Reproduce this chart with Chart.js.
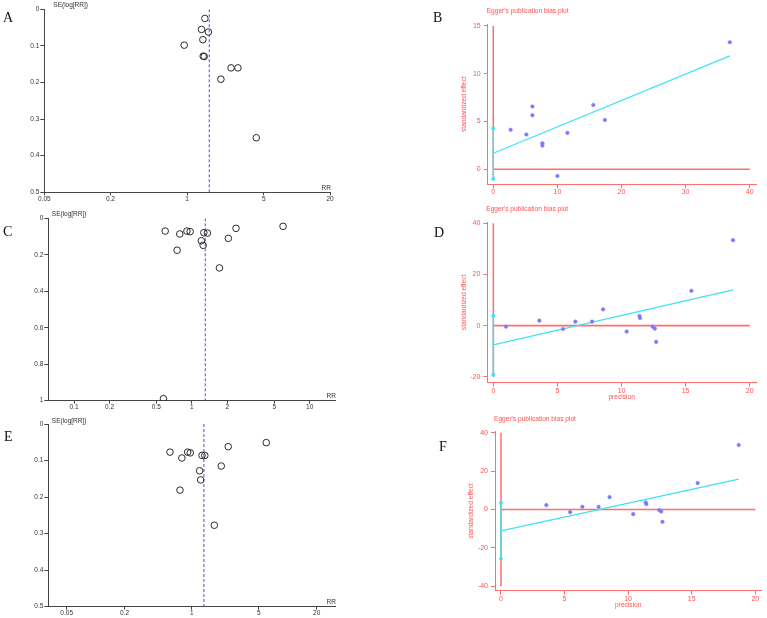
<!DOCTYPE html>
<html><head><meta charset="utf-8">
<script src="https://cdn.jsdelivr.net/npm/chart.js@4/dist/chart.umd.min.js"></script>
<style>
html,body{margin:0;padding:0;background:#fff;}
#wrap{position:relative;width:767px;height:618px;overflow:hidden;background:#fff;}
#wrap canvas{position:absolute;left:0;top:0;}
.lt{position:absolute;font-family:"Liberation Serif","Times New Roman",serif;font-size:14px;line-height:14px;color:#111;}
</style></head><body>
<div id="wrap">
<canvas id="cA" width="767" height="618"></canvas>
<canvas id="cB" width="767" height="618"></canvas>
<canvas id="cC" width="767" height="618"></canvas>
<canvas id="cD" width="767" height="618"></canvas>
<canvas id="cE" width="767" height="618"></canvas>
<canvas id="cF" width="767" height="618"></canvas>
<div class="lt" style="left:3px;top:11px">A</div>
<div class="lt" style="left:433px;top:11px">B</div>
<div class="lt" style="left:3px;top:225px">C</div>
<div class="lt" style="left:434px;top:226px">D</div>
<div class="lt" style="left:4px;top:430px">E</div>
<div class="lt" style="left:439px;top:440px">F</div>
</div>
<script>
// ---------- data ----------
// Funnel A
const rrA = [1.45, 1.35, 1.56, 1.39, 0.94, 1.40, 1.43, 2.51, 2.90, 2.03, 4.26];
const seA = [0.025, 0.055, 0.062, 0.083, 0.098, 0.128, 0.129, 0.16, 0.16, 0.191, 0.351];
const pooledA = 1.59;
const rrTicksA = [0.05, 0.2, 1, 5, 20];
const seTicksA = [0, 0.1, 0.2, 0.3, 0.4, 0.5];
// Egger B
const precB = [2.71, 5.16, 6.1, 6.1, 7.66, 7.66, 10.0, 11.56, 15.6, 17.4, 36.9];
const effB = [4.13, 3.64, 6.57, 5.66, 2.73, 2.48, -0.7, 3.81, 6.73, 5.16, 13.29];
const regB = [1.68, 11.86];
const ciB = [-1.01, 4.29];
const redVB = [-1.05, 15];
const precTicksB = [0, 10, 20, 30, 40];
const effTicksB = [0, 5, 10, 15];
// Funnel C
const rrC = [0.594, 0.79, 0.908, 0.967, 0.75, 1.205, 1.247, 1.264, 1.356, 1.714, 2.04, 2.37, 5.94, 0.574];
const seC = [0.070, 0.086, 0.070, 0.073, 0.175, 0.123, 0.148, 0.079, 0.081, 0.272, 0.110, 0.055, 0.044, 0.989];
const pooledC = 1.30;
const rrTicksC = [0.1, 0.2, 0.5, 1, 2, 5, 10];
const seTicksC = [0, 0.2, 0.4, 0.6, 0.8, 1];
// Egger D
const precD = [0.99, 3.59, 5.44, 6.4, 7.7, 8.56, 10.4, 11.4, 11.44, 12.43, 12.6, 12.7, 15.45, 18.7];
const effD = [-0.39, 1.95, -1.3, 1.56, 1.56, 6.36, -2.34, 3.77, 2.99, -0.39, -1.17, -6.36, 13.6, 33.4];
const regD = [-7.53, 14.0];
const ciD = [-19.2, 3.9];
const redVD = [-20, 40];
const precTicksD = [0, 5, 10, 15, 20];
const effTicksD = [-20, 0, 20, 40];
// Funnel E
const rrE = [0.594, 0.79, 0.908, 0.966, 0.755, 1.21, 1.24, 1.28, 1.37, 1.72, 2.03, 2.40, 5.97];
const seE = [0.077, 0.093, 0.077, 0.079, 0.181, 0.128, 0.153, 0.086, 0.086, 0.277, 0.115, 0.062, 0.051];
const pooledE = 1.34;
const rrTicksE = [0.05, 0.2, 1, 5, 20];
const seTicksE = [0, 0.1, 0.2, 0.3, 0.4, 0.5];
// Egger F
const precF = [3.57, 5.44, 6.4, 7.68, 8.54, 10.4, 11.38, 11.43, 12.45, 12.6, 12.7, 15.47, 18.7];
const effF = [2.26, -1.39, 1.39, 1.39, 6.43, -2.43, 3.65, 2.78, -0.35, -1.04, -6.43, 13.74, 33.57];
const regF = [-11.13, 15.8];
const ciF = [-25.6, 3.48];
const redVF = [-40, 40];
const precTicksF = [0, 5, 10, 15, 20];
const effTicksF = [-40, -20, 0, 20, 40];

// ---------- layout ----------
const W = 767, H = 618, YW = 40, XH = 20;
const SANS = '"Liberation Sans", Arial, sans-serif';
const RED = '#ff6e6e', REDTXT = '#ff5252', CYAN = '#3fe3f0', PTS = '#7b7bff';
const GREY = '#444';

let pid = 0;
function annot(items){
  return {
    id: 'annot' + (pid++),
    afterDraw(chart){
      const ctx = chart.ctx, a = chart.chartArea;
      items.forEach(it => {
        ctx.save();
        ctx.font = it.font; ctx.fillStyle = it.color;
        ctx.textAlign = it.align || 'left'; ctx.textBaseline = 'middle';
        const x = (it.ax === 'right' ? a.right : it.ax === 'center' ? (a.left + a.right) / 2 : a.left) + (it.dx || 0);
        const y = (it.ay === 'bottom' ? a.bottom : it.ay === 'middle' ? (a.top + a.bottom) / 2 : a.top) + (it.dy || 0);
        ctx.translate(x, y);
        if (it.rot) ctx.rotate(it.rot);
        ctx.fillText(it.text, 0, 0);
        ctx.restore();
      });
    }
  };
}

function pad(box){
  return {left: box.L - YW, top: box.T, right: W - box.R, bottom: H - box.B - XH};
}

function funnel(id, rr, se, pooled, rrTicks, seTicks, box, xr, seDx, seDy){
  const yMax = seTicks[seTicks.length - 1];
  new Chart(document.getElementById(id), {
    type: 'scatter',
    data: {datasets: [
      {data: rr.map((v, i) => ({x: v, y: se[i]})), pointStyle: 'circle', pointRadius: 3.3,
       pointBorderWidth: 1, pointBorderColor: '#2a2a2a', pointBackgroundColor: 'rgba(0,0,0,0)', order: 0},
      {data: [{x: pooled, y: 0}, {x: pooled, y: yMax}], showLine: true, pointRadius: 0,
       borderColor: '#4d4ddb', borderWidth: 1, borderDash: [3, 2], order: 1}
    ]},
    options: {
      responsive: false, animation: false, events: [],
      layout: {padding: pad(box)},
      plugins: {legend: {display: false}, tooltip: {enabled: false}},
      scales: {
        x: {type: 'logarithmic', min: xr[0], max: xr[1],
          afterBuildTicks: s => { s.ticks = rrTicks.map(v => ({value: v})); },
          afterFit: s => { s.height = XH; },
          grid: {drawOnChartArea: false, drawTicks: true, tickLength: 3, color: GREY},
          border: {display: true, color: GREY, width: 1},
          ticks: {autoSkip: false, maxRotation: 0, padding: 0, color: '#333',
                  font: {family: SANS, size: 6.5}, callback: v => String(v)}},
        y: {type: 'linear', reverse: true, min: 0, max: yMax,
          afterBuildTicks: s => { s.ticks = seTicks.map(v => ({value: v})); },
          afterFit: s => { s.width = YW; },
          grid: {drawOnChartArea: false, drawTicks: true, tickLength: 4, color: GREY},
          border: {display: true, color: GREY, width: 1},
          ticks: {autoSkip: false, padding: 1, color: '#333',
                  font: {family: SANS, size: 6.5}, callback: v => String(v)}}
      }
    },
    plugins: [annot([
      {text: 'SE(log[RR])', ax: 'left', ay: 'top', dx: seDx, dy: seDy, font: '6.5px ' + SANS, color: '#333'},
      {text: 'RR', ax: 'right', ay: 'bottom', dx: 1, dy: -4.5, align: 'right', font: '6.5px ' + SANS, color: '#333'}
    ])]
  });
}

function egger(id, prec, eff, reg, ci, redV, precTicks, effTicks, box, xr, yr, showX){
  const xEnd = Math.max(...prec);
  const hEnd = precTicks[precTicks.length - 1];
  const items = [
    {text: "Egger's publication bias plot", ax: 'left', ay: 'top', dx: -1, dy: -12.5, font: '6.6px ' + SANS, color: REDTXT},
    {text: 'standardized effect', ax: 'left', ay: 'middle', dx: -23.5, dy: 0, align: 'center', rot: -Math.PI / 2, font: '6.6px ' + SANS, color: REDTXT}
  ];
  if (showX) items.push({text: 'precision', ax: 'center', ay: 'bottom', dx: 0, dy: 14.5, align: 'center', font: '6.6px ' + SANS, color: REDTXT});
  new Chart(document.getElementById(id), {
    type: 'scatter',
    data: {datasets: [
      {data: prec.map((v, i) => ({x: v, y: eff[i]})), pointStyle: 'circle', pointRadius: 1.8,
       pointBorderWidth: 0.5, pointBorderColor: PTS, pointBackgroundColor: PTS, order: 0},
      {data: [{x: 0, y: reg[0]}, {x: xEnd, y: reg[1]}], showLine: true, pointRadius: 0,
       borderColor: CYAN, borderWidth: 1.2, order: 1},
      {data: [{x: 0, y: ci[0]}, {x: 0, y: ci[1]}], showLine: true, pointRadius: 1.2,
       pointBackgroundColor: CYAN, pointBorderColor: CYAN, borderColor: CYAN, borderWidth: 1.5, order: 1},
      {data: [{x: 0, y: redV[0]}, {x: 0, y: redV[1]}], showLine: true, pointRadius: 0,
       borderColor: RED, borderWidth: 1.5, order: 2},
      {data: [{x: 0, y: 0}, {x: hEnd, y: 0}], showLine: true, pointRadius: 0,
       borderColor: RED, borderWidth: 1.6, order: 2}
    ]},
    options: {
      responsive: false, animation: false, events: [],
      layout: {padding: pad(box)},
      plugins: {legend: {display: false}, tooltip: {enabled: false}},
      scales: {
        x: {type: 'linear', min: xr[0], max: xr[1],
          afterBuildTicks: s => { s.ticks = precTicks.map(v => ({value: v})); },
          afterFit: s => { s.height = XH; },
          grid: {drawOnChartArea: false, drawTicks: true, tickLength: 4, color: RED},
          border: {display: true, color: RED, width: 1},
          ticks: {autoSkip: false, maxRotation: 0, padding: 0, color: REDTXT,
                  font: {family: SANS, size: 7}, callback: v => String(v)}},
        y: {type: 'linear', min: yr[0], max: yr[1],
          afterBuildTicks: s => { s.ticks = effTicks.map(v => ({value: v})); },
          afterFit: s => { s.width = YW; },
          grid: {drawOnChartArea: false, drawTicks: true, tickLength: 4, color: RED},
          border: {display: true, color: RED, width: 1},
          ticks: {autoSkip: false, padding: 3, color: REDTXT,
                  font: {family: SANS, size: 7}, callback: v => String(v)}}
      }
    },
    plugins: [annot(items)]
  });
}

funnel('cA', rrA, seA, pooledA, rrTicksA, seTicksA, {L: 44.3, T: 9.3, R: 330, B: 192.3}, [0.05, 20], 9, -4);
funnel('cC', rrC, seC, pooledC, rrTicksC, seTicksC, {L: 48.3, T: 218.3, R: 335, B: 400.7}, [0.0605, 16.4], 3.5, -4.3);
funnel('cE', rrE, seE, pooledE, rrTicksE, seTicksE, {L: 48.3, T: 424, R: 335, B: 606.7}, [0.0322, 31], 3.5, -3);

egger('cB', precB, effB, regB, ciB, redVB, precTicksB, effTicksB, {L: 487.7, T: 24, R: 756, B: 184.3}, [-0.87, 40.98], [-1.57, 15.2], false);
egger('cD', precD, effD, regD, ciD, redVD, precTicksD, effTicksD, {L: 487.3, T: 222, R: 756, B: 382.7}, [-0.47, 20.49], [-22.3, 40.5], true);
egger('cF', precF, effF, regF, ciF, redVF, precTicksF, effTicksF, {L: 495, T: 431.3, R: 763.3, B: 590.7}, [-0.47, 20.49], [-42.3, 40.7], true);
</script>
</body></html>
